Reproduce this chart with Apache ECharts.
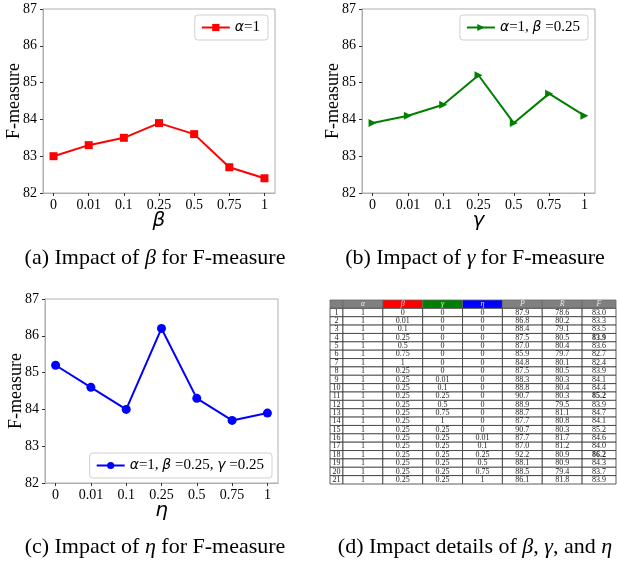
<!DOCTYPE html>
<html lang="en">
<head>
    <meta charset="UTF-8">
    <title>Impact of beta, gamma, eta</title>
    <script src="https://cdn.jsdelivr.net/npm/echarts@6/dist/echarts.min.js"></script>
    <style>
        body { margin: 0; background: #fff; }
        #main { width: 617px; height: 562px; }
    </style>
</head>
<body>
<div id="main"></div>
<script>
    // x categories shared by the three line charts
    var xLabels = ['0', '0.01', '0.1', '0.25', '0.5', '0.75', '1'];
    // F-measure values
    var fBeta = [83.0, 83.3, 83.5, 83.9, 83.6, 82.7, 82.4];
    var fGamma = [83.9, 84.1, 84.4, 85.2, 83.9, 84.7, 84.1];
    var fEta = [85.2, 84.6, 84.0, 86.2, 84.3, 83.7, 83.9];
    var yTicks = [82, 83, 84, 85, 86, 87];

    // table (d)
    var tblHeader = ['', 'α', 'β', 'γ', 'η', 'P', 'R', 'F'];
    var tblAlpha = ['1', '1', '1', '1', '1', '1', '1', '1', '1', '1', '1', '1', '1', '1', '1', '1', '1', '1', '1', '1', '1'];
    var tblBeta = ['0', '0.01', '0.1', '0.25', '0.5', '0.75', '1', '0.25', '0.25', '0.25', '0.25', '0.25', '0.25', '0.25', '0.25', '0.25', '0.25', '0.25', '0.25', '0.25', '0.25'];
    var tblGamma = ['0', '0', '0', '0', '0', '0', '0', '0', '0.01', '0.1', '0.25', '0.5', '0.75', '1', '0.25', '0.25', '0.25', '0.25', '0.25', '0.25', '0.25'];
    var tblEta = ['0', '0', '0', '0', '0', '0', '0', '0', '0', '0', '0', '0', '0', '0', '0', '0.01', '0.1', '0.25', '0.5', '0.75', '1'];
    var tblP = ['87.9', '86.8', '88.4', '87.5', '87.0', '85.9', '84.8', '87.5', '88.3', '88.8', '90.7', '88.9', '88.7', '87.7', '90.7', '87.7', '87.0', '92.2', '88.1', '88.5', '86.1'];
    var tblR = ['78.6', '80.2', '79.1', '80.5', '80.4', '79.7', '80.1', '80.5', '80.3', '80.4', '80.3', '79.5', '81.1', '80.8', '80.3', '81.7', '81.2', '80.9', '80.9', '79.4', '81.8'];
    var tblF = ['83.0', '83.3', '83.5', '83.9', '83.6', '82.7', '82.4', '83.9', '84.1', '84.4', '85.2', '83.9', '84.7', '84.1', '85.2', '84.6', '84.0', '86.2', '84.3', '83.7', '83.9'];
    var tblBoldRows = [4, 11, 18];

    var SERIF = '"Liberation Serif", "DejaVu Serif", serif';
    var SANS = '"DejaVu Sans", sans-serif';
    var headBg = ['#808080', '#808080', '#ff0000', '#008000', '#0000ff', '#808080', '#808080', '#808080'];
    var colW = [13, 40, 40, 40, 40, 40, 40, 34];
    var colEdge = [0];
    colW.forEach(function (w, i) { colEdge.push(colEdge[i] + w); });

    var cells = [];
    tblHeader.forEach(function (h, c) {
        cells.push({c: c, r: 0, t: h, bg: headBg[c], head: true});
    });
    var cols = [null, tblAlpha, tblBeta, tblGamma, tblEta, tblP, tblR, tblF];
    for (var i = 0; i < tblF.length; i++) {
        for (var c = 0; c < cols.length; c++) {
            var txt = c === 0 ? String(i + 1) : cols[c][i];
            cells.push({c: c, r: i + 1, t: txt, bg: '#fff', bold: c === 7 && tblBoldRows.indexOf(i + 1) >= 0});
        }
    }

    var greek = {
        g: {fontFamily: SANS, fontStyle: 'italic', fontSize: 14, color: '#000'},
        s: {fontFamily: SERIF, fontSize: 15, color: '#000'}
    };

    function makeX(idx, name) {
        return {
            type: 'value', gridIndex: idx, min: -0.3, max: 6.3,
            name: name, nameLocation: 'middle', nameGap: 18, nameMoveOverlap: false,
            nameTextStyle: {fontFamily: SANS, fontStyle: 'italic', fontSize: 20, color: '#000'},
            axisLine: {show: true, onZero: false, lineStyle: {color: '#b0b0b0'}},
            axisTick: {show: true, length: 3, customValues: [0, 1, 2, 3, 4, 5, 6], lineStyle: {color: '#333'}},
            axisLabel: {
                customValues: [0, 1, 2, 3, 4, 5, 6], margin: 5,
                fontFamily: SERIF, fontSize: 14, color: '#000',
                formatter: function (v) { return xLabels[Math.round(v)]; }
            },
            splitLine: {show: false}
        };
    }

    function makeY(idx) {
        return {
            type: 'value', gridIndex: idx, min: 82, max: 87, interval: 1,
            name: 'F-measure', nameLocation: 'middle', nameGap: 20, nameMoveOverlap: false,
            nameTextStyle: {fontFamily: SERIF, fontSize: 18, color: '#000'},
            axisLine: {show: true, onZero: false, lineStyle: {color: '#b0b0b0'}},
            axisTick: {show: true, length: 3, lineStyle: {color: '#333'}},
            axisLabel: {fontFamily: SERIF, fontSize: 14, color: '#000', margin: 6,
                formatter: function (v) { return yTicks.indexOf(v) >= 0 ? String(v) : ''; }},
            splitLine: {show: false}
        };
    }

    function lineSeries(idx, name, data, color, symbol, rotate) {
        return {
            type: 'line', name: name, xAxisIndex: idx, yAxisIndex: idx,
            data: data.map(function (v, k) { return [k, v]; }),
            symbol: symbol, symbolSize: symbol === 'circle' ? 9 : 8, symbolRotate: rotate || 0,
            showAllSymbol: true,
            lineStyle: {color: color, width: 2},
            itemStyle: {color: color},
            emphasis: {disabled: true},
            animation: false
        };
    }

    function legendBox(idx, name, pos, fmt) {
        return Object.assign({
            data: [name], seriesIndex: idx,
            orient: 'horizontal', itemWidth: 28, itemHeight: 9,
            padding: [5, 8, 5, 6], borderColor: '#d0d0d0', borderWidth: 1, borderRadius: 3,
            backgroundColor: '#fff',
            textStyle: {fontFamily: SERIF, fontSize: 15, color: '#000', rich: greek},
            formatter: function () { return fmt; }
        }, pos);
    }

    var chart = echarts.init(document.getElementById('main'), null, {renderer: 'canvas'});
    var option = {
        backgroundColor: '#fff',
        animation: false,
        title: [
            {text: '(a) Impact of {g|β} for F-measure', left: 150, top: 242, textAlign: 'center'},
            {text: '(b) Impact of {g|γ} for F-measure', left: 470, top: 242, textAlign: 'center'},
            {text: '(c) Impact of {g|η} for F-measure', left: 150, top: 531, textAlign: 'center'},
            {text: '(d) Impact details of {g|β}, {g|γ}, and {g|η}', left: 470, top: 531, textAlign: 'center'}
        ].map(function (t) {
            t.textStyle = {fontFamily: SERIF, fontSize: 22, fontWeight: 'normal', color: '#000',
                rich: {g: {fontFamily: SERIF, fontStyle: 'italic', fontSize: 22, color: '#000'}}};
            return t;
        }),
        grid: [
            {left: 43, top: 9, width: 232, height: 184, show: true, borderColor: '#b0b0b0', borderWidth: 1},
            {left: 362, top: 9, width: 233, height: 184, show: true, borderColor: '#b0b0b0', borderWidth: 1},
            {left: 45, top: 299, width: 233, height: 184, show: true, borderColor: '#b0b0b0', borderWidth: 1},
            {left: 330, top: 300, width: 286, height: 184}
        ],
        xAxis: [
            makeX(0, 'β'), makeX(1, 'γ'), makeX(2, 'η'),
            {type: 'value', gridIndex: 3, min: 0, max: colEdge[colEdge.length - 1], show: false}
        ],
        yAxis: [
            makeY(0), makeY(1), makeY(2),
            {type: 'value', gridIndex: 3, min: 0, max: 22, inverse: true, show: false}
        ],
        legend: [
            legendBox(0, 'a', {right: 349, top: 15}, '{g|α}{s|=1}'),
            legendBox(1, 'b', {right: 29, top: 15}, '{g|α}{s|=1, }{g|β}{s| =0.25}'),
            legendBox(2, 'c', {right: 345, top: 453}, '{g|α}{s|=1, }{g|β}{s| =0.25, }{g|γ}{s| =0.25}')
        ],
        series: [
            lineSeries(0, 'a', fBeta, '#ff0000', 'rect'),
            lineSeries(1, 'b', fGamma, '#008000', 'triangle', -90),
            lineSeries(2, 'c', fEta, '#0000ff', 'circle'),
            {
                type: 'custom', xAxisIndex: 3, yAxisIndex: 3, silent: true,
                data: cells.map(function (d) { return [colEdge[d.c], d.r]; }),
                renderItem: function (params, api) {
                    var d = cells[params.dataIndex];
                    var p0 = api.coord([colEdge[d.c], d.r]);
                    var p1 = api.coord([colEdge[d.c + 1], d.r + 1]);
                    return {
                        type: 'group',
                        children: [{
                            type: 'rect',
                            shape: {x: p0[0], y: p0[1], width: p1[0] - p0[0], height: p1[1] - p0[1]},
                            style: {fill: d.bg, stroke: d.head ? '#666' : '#333', lineWidth: 0.8}
                        }, {
                            type: 'text',
                            x: (p0[0] + p1[0]) / 2, y: (p0[1] + p1[1]) / 2,
                            style: {
                                text: d.t, align: 'center', verticalAlign: 'middle',
                                fontFamily: SERIF, fontSize: 8,
                                fontStyle: d.head ? 'italic' : 'normal',
                                fontWeight: d.bold ? 'bold' : 'normal',
                                fill: d.head ? '#e8e8e8' : '#222'
                            }
                        }]
                    };
                }
            }
        ]
    };
    chart.setOption(option);
</script>
</body>
</html>
